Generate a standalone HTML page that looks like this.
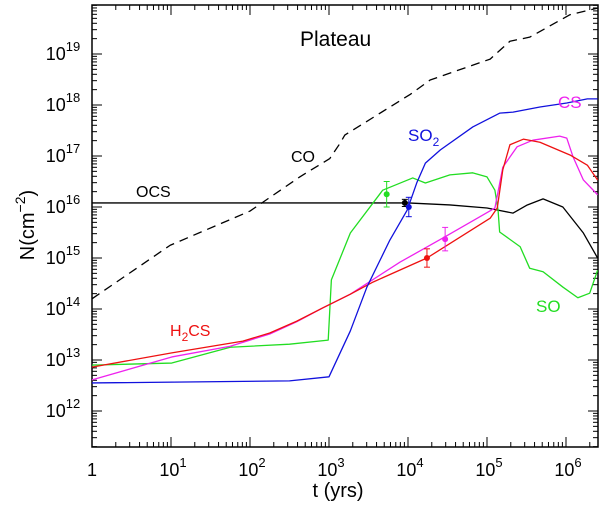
<!DOCTYPE html>
<html><head><meta charset="utf-8"><style>
body{margin:0;background:#fff;}
svg{display:block;font-family:"Liberation Sans",sans-serif;}
</style></head><body>
<svg id="chart" width="600" height="506"></svg>
<script>
const coLogT=[0,0.99,2.0,2.63,3.01,3.14,3.2,4.03,4.28,5.04,5.29,5.54,6.05,6.4];
const coLogN=[14.2,15.25,15.92,16.59,16.95,17.25,17.41,18.21,18.49,18.9,19.25,19.33,19.77,19.9];
const ocsLogT=[0,1,2,3,4,4.53,5.0,5.33,5.51,5.71,5.96,6.22,6.4];
const ocsLogN=[16.08,16.08,16.08,16.08,16.08,16.04,15.98,15.88,16.04,16.16,16.0,15.49,15.0];
const so2LogT=[0,2.5,3.0,3.27,3.48,3.77,3.99,4.11,4.22,4.41,4.82,5.16,5.33,5.67,6.01,6.27,6.4];
const so2LogN=[12.55,12.59,12.67,13.57,14.43,15.35,15.94,16.47,16.86,17.12,17.57,17.84,17.86,17.96,18.04,18.12,18.12];
const soLogT=[0,1.01,1.75,2.5,2.99,3.03,3.27,3.68,4.06,4.22,4.53,4.82,5.0,5.1,5.14,5.16,5.42,5.54,5.71,5.96,6.15,6.3,6.4];
const soLogN=[12.9,12.94,13.25,13.31,13.39,14.57,15.49,16.33,16.57,16.47,16.63,16.67,16.59,16.33,15.94,15.51,15.22,14.8,14.73,14.43,14.22,14.31,14.76];
const h2csLogT=[0,1.01,1.91,2.25,2.59,2.92,3.27,3.56,4.24,5.04,5.13,5.2,5.29,5.46,5.67,6.05,6.27,6.4];
const h2csLogN=[12.86,13.14,13.37,13.53,13.76,14.02,14.29,14.53,15.0,15.78,15.98,16.73,17.22,17.33,17.27,17.02,16.82,16.53];
const csLogT=[0,1.01,1.75,2.25,2.59,2.92,3.27,3.9,4.44,4.9,5.1,5.2,5.38,5.58,5.92,6.01,6.09,6.22,6.4];
const csLogN=[12.61,13.06,13.27,13.51,13.75,14.02,14.29,14.92,15.39,15.8,15.98,16.78,17.18,17.31,17.39,17.35,16.98,16.53,16.24];
const obsLogT=[3.73,3.96,4.01,4.24,4.47];
const obsLogN=[16.25,16.08,16.0,15.0,15.37];
const obsErr=[0.25,0.07,0.19,0.18,0.23];
const obsColors=["#22dd22","#000","#1111dd","#ee1111","#ee22ee"];
const xTickLabels=["1","10","10","10","10","10","10"];
const xTickExp=["","1","2","3","4","5","6"];
const yTickExp=[12,13,14,15,16,17,18,19];

const NS="http://www.w3.org/2000/svg";
const svg=document.getElementById('chart');
const L=92,R=598,T=5,B=447;
const X=lt=>L+79*lt;
const Y=ln=>207-51*(ln-16);
function mk(tag,attrs,parent){const e=document.createElementNS(NS,tag);for(const k in attrs)e.setAttribute(k,attrs[k]);(parent||svg).appendChild(e);return e;}

const axes=mk('g',{});


mk('rect',{x:L,y:T,width:R-L,height:B-T,fill:'none',stroke:'#000','stroke-width':1.5},axes);
for(let d=0;d<=6;d++){for(let m=1;m<=9;m++){const lt=d+Math.log10(m);if(lt>6.41)continue;const x=X(lt);const len=m==1?10:5;
mk('line',{x1:x,y1:B,x2:x,y2:B-len,stroke:'#000'},axes);mk('line',{x1:x,y1:T,x2:x,y2:T+len,stroke:'#000'},axes);}}
for(let d=11;d<=19;d++){for(let m=1;m<=9;m++){const ln=d+Math.log10(m);const y=Y(ln);if(y>B||y<T)continue;const len=m==1?10:5;
mk('line',{x1:L,y1:y,x2:L+len,y2:y,stroke:'#000'},axes);mk('line',{x1:R,y1:y,x2:R-len,y2:y,stroke:'#000'},axes);}}
xTickLabels.forEach((s,i)=>{const t=mk('text',{x:X(i)+(i?2:0),y:476,'font-size':18,'text-anchor':'middle'},axes);


t.textContent=s;if(xTickExp[i]){const sp=mk('tspan',{dy:-9,'font-size':13},t);sp.textContent=xTickExp[i];}});
yTickExp.forEach(e=>{const t=mk('text',{x:63,y:Y(e)+6,'font-size':18,'text-anchor':'middle'},axes);


t.textContent='10';const sp=mk('tspan',{dy:-9,'font-size':13},t);sp.textContent=String(e);});

function line(lt,ln,color,name,dash){const p=mk('polyline',{points:lt.map((v,i)=>X(v)+','+Y(ln[i])).join(' '),fill:'none',stroke:color,'stroke-width':1.3,'stroke-linejoin':'round'});
if(dash)p.setAttribute('stroke-dasharray',dash);

}
line(coLogT,coLogN,'#000','co-line','9,6');
line(ocsLogT,ocsLogN,'#000','ocs-line');
line(soLogT,soLogN,'#22dd22','so-line');
line(csLogT,csLogN,'#ee22ee','cs-line');
line(h2csLogT,h2csLogN,'#ee1111','h2cs-line');
line(so2LogT,so2LogN,'#1111dd','so2-line');

obsLogT.forEach((lt,i)=>{const g=mk('g',{});


const x=X(lt),y=Y(obsLogN[i]),y1=Y(obsLogN[i]+obsErr[i]),y2=Y(obsLogN[i]-obsErr[i]);
mk('line',{x1:x,y1:y1,x2:x,y2:y2,stroke:obsColors[i]},g);
mk('line',{x1:x-3,y1:y1,x2:x+3,y2:y1,stroke:obsColors[i]},g);
mk('line',{x1:x-3,y1:y2,x2:x+3,y2:y2,stroke:obsColors[i]},g);
mk('circle',{cx:x,cy:y,r:3,fill:obsColors[i]},g);});

function label(x,y,txt,color,name,size,sub){const t=mk('text',{x:x,y:y,fill:color,'font-size':size||16});


t.textContent=txt;if(sub){const s=mk('tspan',{dy:5,'font-size':12},t);s.textContent=sub[0];const s2=mk('tspan',{dy:-5},t);s2.textContent=sub[1];}}
label(300,46,'Plateau','#000','chart-title',21);
label(136,197,'OCS','#000','ocs-label');
label(291,162,'CO','#000','co-label');
label(408,141,'SO','#1111dd','so2-label',17,['2','']);
label(558,108,'CS','#ee22ee','cs-label',17);
label(170,336,'H','#ee1111','h2cs-label',16,['2','CS']);
label(536,312,'SO','#22dd22','so-label',17);
const xt=mk('text',{x:338,y:497,'font-size':20,'text-anchor':'middle'});


xt.textContent='t (yrs)';
const yt=mk('text',{x:0,y:0,'font-size':20,'text-anchor':'middle',transform:'translate(34,225) rotate(-90)'});


yt.textContent='N(cm';const ys=mk('tspan',{dy:-9,'font-size':14},yt);ys.textContent='−2';const ye=mk('tspan',{dy:9},yt);ye.textContent=')';
</script>
</body></html>
